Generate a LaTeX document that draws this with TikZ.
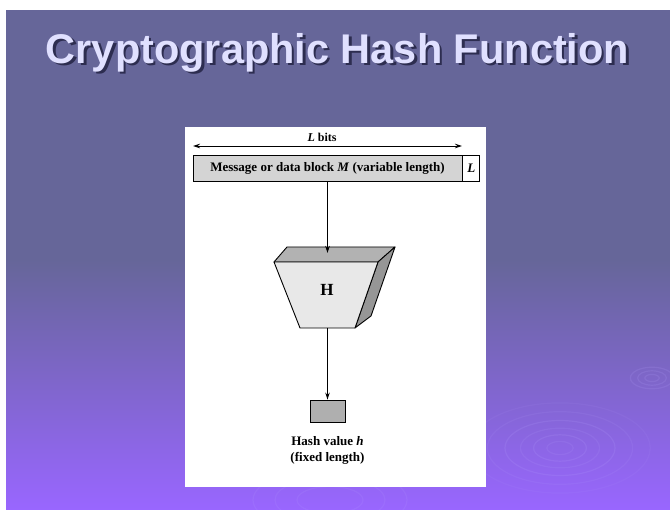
\documentclass[tikz,border=0pt]{standalone}
\usepackage{fontspec}
\setmainfont{Liberation Serif}
\newfontfamily\titlefont{Liberation Sans}
\usetikzlibrary{arrows.meta}
\definecolor{slidetop}{RGB}{102,102,153}
\definecolor{slidebot}{RGB}{153,102,255}
\definecolor{titletext}{RGB}{224,224,255}
\definecolor{titleshadow}{RGB}{45,45,80}
\definecolor{blockgray}{RGB}{212,212,212}
\definecolor{hashgray}{RGB}{175,175,175}
\definecolor{facefront}{RGB}{232,232,232}
\definecolor{facetop}{RGB}{178,178,178}
\definecolor{faceside}{RGB}{150,150,150}
\definecolor{ripple}{RGB}{185,165,255}
\tikzset{
  blockbox/.style={draw=black, line width=0.9pt, inner sep=0pt, font=\bfseries\fontsize{13}{15}\selectfont},
  flowarrow/.style={draw=black, line width=0.9pt, -{Stealth[length=7pt,width=4.5pt]}},
  figlabel/.style={font=\bfseries\fontsize{13}{16}\selectfont, align=center, inner sep=0pt},
  wave/.style={draw=ripple, line width=1.2pt},
  titlestyle/.style={anchor=base, inner sep=0pt, font=\titlefont\bfseries\fontsize{41.5}{48}\selectfont},
}
\begin{document}
\begin{tikzpicture}[x=1pt,y=-1pt]
\useasboundingbox (0,0) rectangle (670,510);
\fill[white] (0,0) rectangle (670,510);
% slide background: flat upper part, gradient towards the bottom
\fill[slidetop] (6,10) rectangle (670,260);
\shade[top color=slidetop, bottom color=slidebot] (6,259.5) rectangle (670,510);
% ripples
\foreach \r/\o in {12/0.12,24/0.15,36/0.12,50/0.15,66/0.1,82/0.08}
  \draw[wave, opacity=\o] (560,448) ellipse ({\r*1.1} and {\r*0.55});
\foreach \r in {6,12,18}
  \draw[wave, opacity=0.15] (652,378) ellipse ({\r*1.2} and {\r*0.6});
\foreach \r in {30,50,70}
  \draw[wave, opacity=0.12] (330,500) ellipse ({\r*1.1} and {\r*0.45});
% title with drop shadow
\node[titlestyle, text=titleshadow] at (340,66) {Cryptographic Hash Function};
\node[titlestyle, text=titletext] (title) at (337.5,63.5) {Cryptographic Hash Function};
% figure panel
\fill[white] (185,127) rectangle (486,487);
% message block and length field
\node[blockbox, fill=blockgray, minimum width=269pt, minimum height=26pt] (msg) at (327.5,168) {Message or data block \textit{M} (variable length)};
\node[blockbox, fill=white, minimum width=17pt, minimum height=26pt, anchor=west] (len) at (msg.east) {\textit{L}};
% length dimension
\coordinate (la) at (193,146);
\coordinate (lb) at (462,146);
\draw[line width=0.9pt, {Stealth[length=7pt,width=4.5pt]}-{Stealth[length=7pt,width=4.5pt]}] (la) -- (lb);
\node[figlabel, font=\bfseries\fontsize{12}{14}\selectfont, anchor=base] (lbits) at (322,142) {\textit{L} bits};
% hash function block drawn as a solid trapezoid
\coordinate (ftl) at (274,262);
\coordinate (ftr) at (378,262);
\coordinate (fbl) at (300,328);
\coordinate (fbr) at (355,328);
\coordinate (btl) at (287,247);
\coordinate (btr) at (395,247);
\coordinate (bbr) at (371,316);
\filldraw[fill=facetop, line width=0.9pt, line join=round] (ftl) -- (btl) -- (btr) -- (ftr) -- cycle;
\filldraw[fill=faceside, line width=0.9pt, line join=round] (ftr) -- (btr) -- (bbr) -- (fbr) -- cycle;
\filldraw[fill=facefront, line width=0.9pt, line join=round] (ftl) -- (ftr) -- (fbr) -- (fbl) -- cycle;
\node[font=\bfseries\fontsize{17}{19}\selectfont] (hfun) at (327,290) {H};
\coordinate (htop) at (327.5,253);
\coordinate (hbot) at (327.5,328);
% hash value
\node[blockbox, fill=hashgray, minimum width=35pt, minimum height=22pt] (hash) at (327.5,411) {};
\node[figlabel, anchor=north] (hashlbl) at (327.5,436) {Hash value \textit{h}\\(fixed length)};
% connectors
\draw[flowarrow] (msg.south) -- (htop);
\draw[flowarrow] (hbot) -- (hash.north);
\end{tikzpicture}
\end{document}
